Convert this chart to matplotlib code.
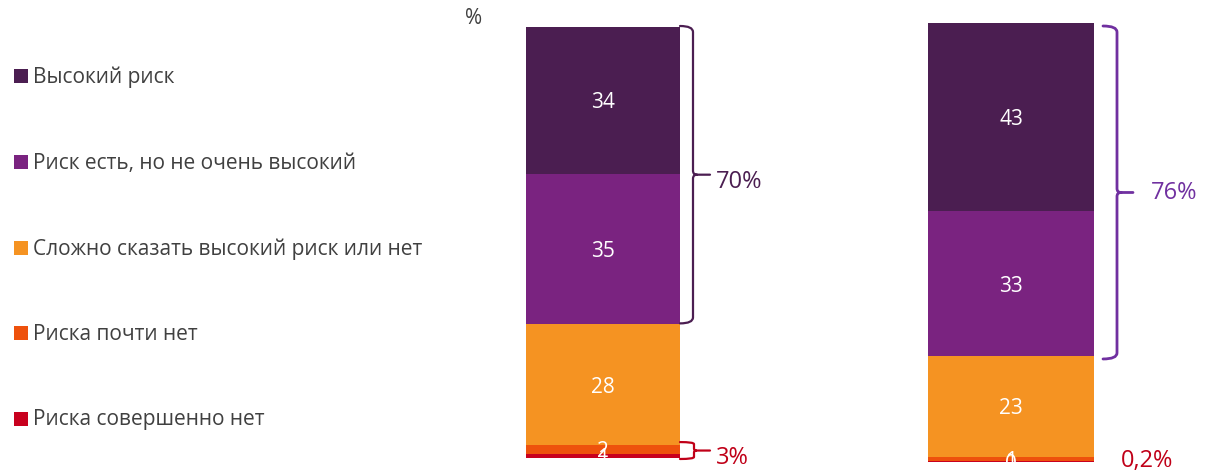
import matplotlib
matplotlib.use('Agg')
import matplotlib.pyplot as plt
from matplotlib.path import Path
from matplotlib.patches import PathPatch, Rectangle

plt.rcParams['font.family'] = ['Open Sans', 'DejaVu Sans']

# ---------------- data ----------------
categories = ['Высокий риск', 'Риск есть, но не очень высокий',
              'Сложно сказать высокий риск или нет', 'Риска почти нет',
              'Риска совершенно нет']
colors = ['#4B1E51', '#7A2380', '#F59322', '#EE510C', '#C8001E']
bar1_values = [34, 35, 28, 2, 1]
bar2_values = [43, 33, 23, 1, 0.2]
bar1_labels = ['34', '35', '28', '2', '1']
bar2_labels = ['43', '33', '23', '1', '0']
bar1_top_total = '70%'
bar1_bottom_total = '3%'
bar2_top_total = '76%'
bar2_bottom_total = '0,2%'
unit_label = '%'

# ---------------- layout ----------------
W, H = 1207, 474
fig = plt.figure(figsize=(W / 100, H / 100), dpi=100)
fig.patch.set_facecolor('white')


def axpos(x0, x1, ytop, ybot):
    return [x0 / W, 1 - ybot / H, (x1 - x0) / W, (ybot - ytop) / H]


def fx(px):
    return px / W


def fy(py):
    return 1 - py / H


ax1 = fig.add_axes(axpos(526, 680, 27, 458))
ax2 = fig.add_axes(axpos(928, 1094, 23, 462))


def draw_bar(ax, values, labels):
    bottom = 0
    segs = []
    for v, c, lbl in reversed(list(zip(values, colors, labels))):
        ax.bar(0, v, bottom=bottom, width=1, color=c, linewidth=0)
        segs.append((bottom, v, lbl))
        bottom += v
    for b, v, lbl in segs:
        ax.text(0, b + v / 2, lbl, ha='center', va='center_baseline',
                color='white', fontsize=15, clip_on=True)
    ax.set_xlim(-0.5, 0.5)
    ax.set_ylim(0, bottom)
    ax.axis('off')
    return bottom


draw_bar(ax1, bar1_values, bar1_labels)
draw_bar(ax2, bar2_values, bar2_labels)


def data_to_py(ax, y):
    # image pixel y (top origin)
    return H - ax.transData.transform((0, y))[1]


def brace(ytop_px, ybot_px, xs, xv, xt, color, lw=1.6, r=6, rm=4):
    ym = (ytop_px + ybot_px) / 2
    P = lambda x, y: (fx(x), fy(y))
    verts = [P(xs, ytop_px), P(xv, ytop_px), P(xv, ytop_px + r),
             P(xv, ym - rm), P(xv, ym), P(xv + rm, ym),
             P(xt, ym),
             P(xv + rm, ym), P(xv, ym), P(xv, ym + rm),
             P(xv, ybot_px - r), P(xv, ybot_px), P(xs, ybot_px)]
    codes = [Path.MOVETO, Path.CURVE3, Path.CURVE3,
             Path.LINETO, Path.CURVE3, Path.CURVE3,
             Path.LINETO,
             Path.MOVETO, Path.CURVE3, Path.CURVE3,
             Path.LINETO, Path.CURVE3, Path.CURVE3]
    fig.add_artist(PathPatch(Path(verts, codes), transform=fig.transFigure,
                             facecolor='none', edgecolor=color, lw=lw,
                             capstyle='round', joinstyle='round'))
    return ym


# bar 1 large brace: two top categories
lower1 = sum(bar1_values[2:])
t = data_to_py(ax1, sum(bar1_values)) - 1
b = data_to_py(ax1, lower1) - 1
ym = brace(t, b, 680, 693, 710, '#4B1E51')
fig.text(fx(716), fy(ym + 7), bar1_top_total, ha='left', va='center',
         color='#4B1E51', fontsize=17)

# bar 1 small brace: two bottom categories
t = data_to_py(ax1, sum(bar1_values[3:])) - 3
b = data_to_py(ax1, 0) + 1
ym = brace(t, b, 680, 694, 710, '#C00018', r=2, rm=2)
fig.text(fx(716), fy(ym + 7), bar1_bottom_total, ha='left', va='center',
         color='#C00018', fontsize=17)

# bar 2 large brace
t = data_to_py(ax2, sum(bar2_values)) + 3
b = data_to_py(ax2, sum(bar2_values[2:])) + 3
ym = brace(t, b, 1103, 1117, 1133, '#7030A0', lw=2)
fig.text(fx(1151), fy(ym + 1), bar2_top_total, ha='left', va='center',
         color='#7030A0', fontsize=17)

# bar 2 bottom total
fig.text(fx(1121), fy(461), bar2_bottom_total, ha='left', va='center',
         color='#C00018', fontsize=17)

# unit label
fig.text(fx(465), fy(18), unit_label, ha='left', va='center',
         color='#404040', fontsize=15)

# legend
legend_y = [76, 162, 248, 333, 419]
for cat, c, yc in zip(categories, colors, legend_y):
    fig.add_artist(Rectangle((fx(14), fy(yc + 7)), 14 / W, 14 / H,
                             transform=fig.transFigure, facecolor=c,
                             edgecolor='none'))
    fig.text(fx(33), fy(yc + 1), cat, ha='left', va='center',
             color='#404040', fontsize=15)

fig.savefig('out.png', dpi=100, facecolor='white')
